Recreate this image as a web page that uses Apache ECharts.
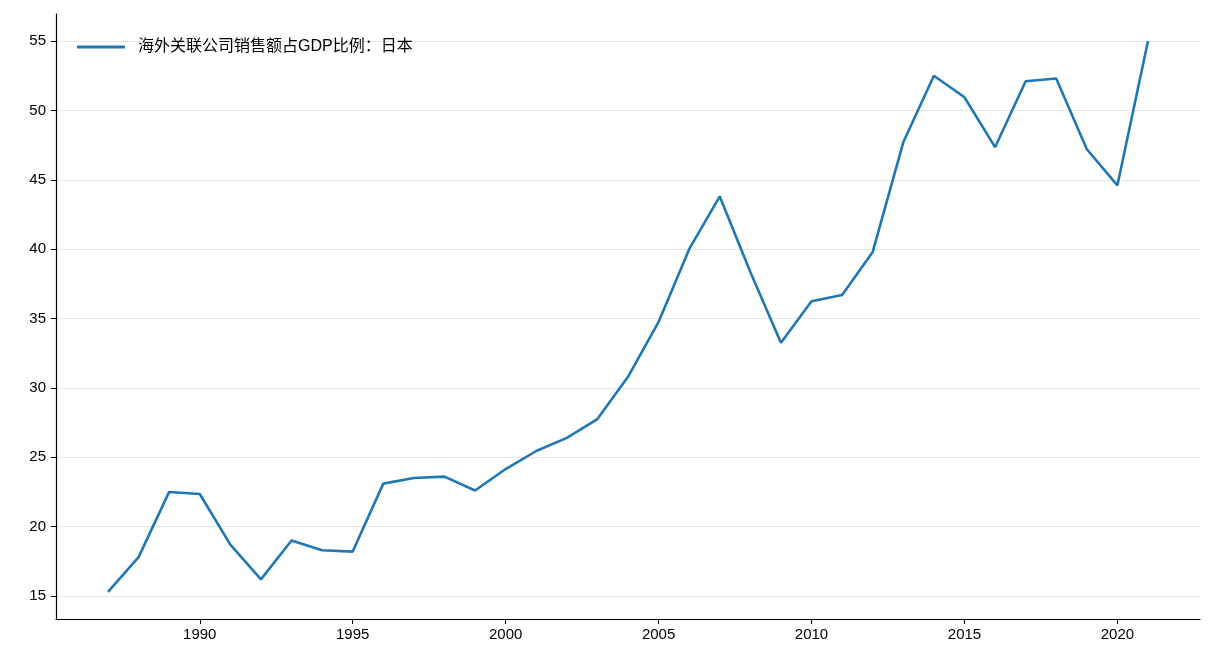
<!DOCTYPE html><html><head><meta charset="utf-8"><script src="https://cdn.jsdelivr.net/npm/echarts@6/dist/echarts.min.js"></script>
<style>html,body{margin:0;background:#fff}#c{width:1216px;height:672px}</style></head><body><div id="c"></div><script>
const years=[1987,1988,1989,1990,1991,1992,1993,1994,1995,1996,1997,1998,1999,2000,2001,2002,2003,2004,2005,2006,2007,2008,2009,2010,2011,2012,2013,2014,2015,2016,2017,2018,2019,2020,2021];
const values=[15.3,17.8,22.5,22.35,18.7,16.2,19.0,18.3,18.2,23.1,23.5,23.6,22.6,24.15,25.45,26.4,27.75,30.8,34.75,40.0,43.8,38.35,33.25,36.25,36.7,39.8,47.7,52.5,50.95,47.35,52.1,52.3,47.2,44.6,55.0];
const xTicks=[1990,1995,2000,2005,2010,2015,2020];
const yTicks=[15,20,25,30,35,40,45,50,55];
const seriesName='海外关联公司销售额占GDP比例：日本';
const font='"Liberation Sans","Noto Sans CJK SC",sans-serif';
const chart=echarts.init(document.getElementById('c'));
chart.setOption({
animation:false,
grid:{left:56,right:16,top:14,bottom:53},
legend:{left:72,top:34,itemWidth:48,itemHeight:3,itemGap:10,icon:'rect',textStyle:{fontFamily:font,fontSize:16,color:'#000',padding:[0,0,0,8]},data:[seriesName]},
xAxis:{type:'value',min:1985.3,max:2022.7,
 axisLine:{lineStyle:{color:'#000',width:1.2}},
 axisTick:{inside:false,customValues:xTicks,length:5,lineStyle:{color:'#000'}},
 axisLabel:{customValues:xTicks,formatter:v=>String(v),color:'#000',fontSize:15,fontFamily:font,margin:8},
 splitLine:{show:false}},
yAxis:{type:'value',min:13.34,max:56.95,
 axisLine:{show:true,lineStyle:{color:'#000',width:1.2}},
 axisTick:{show:true,inside:false,customValues:yTicks,length:5,lineStyle:{color:'#000'}},
 axisLabel:{customValues:yTicks,formatter:v=>String(v),color:'#000',fontSize:15,fontFamily:font,margin:10},
 splitLine:{show:true,lineStyle:{color:'#e6e6e6',width:1}}},
series:[{name:seriesName,type:'line',data:years.map((y,i)=>[y,values[i]]),symbol:'none',lineStyle:{color:'#1f77b4',width:2.6},itemStyle:{color:'#1f77b4'}}]
});
</script></body></html>
